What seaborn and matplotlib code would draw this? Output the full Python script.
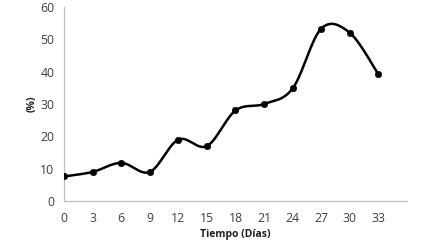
import seaborn as sns
import matplotlib.pyplot as plt
import numpy as np
import pandas as pd

dias = [0, 3, 6, 9, 12, 15, 18, 21, 24, 27, 30, 33]
porcentaje = [7.6, 9.0, 11.8, 9.0, 19.0, 17.0, 28.0, 30.0, 34.8, 53.3, 52.0, 39.2]
ticks = [0, 3, 6, 9, 12, 15, 18, 21, 24, 27, 30, 33]


def smooth(x, y, n=30):
    """Excel-like smoothed line (Catmull-Rom bezier through the points)."""
    p = np.column_stack([x, y]).astype(float)
    p = np.vstack([p[0], p, p[-1]])
    out = []
    t = np.linspace(0, 1, n)[:, None]
    for i in range(1, len(p) - 2):
        b0 = p[i]
        b3 = p[i + 1]
        b1 = b0 + (p[i + 1] - p[i - 1]) / 6
        b2 = b3 - (p[i + 2] - p[i]) / 6
        seg = ((1 - t) ** 3 * b0 + 3 * (1 - t) ** 2 * t * b1
               + 3 * (1 - t) * t ** 2 * b2 + t ** 3 * b3)
        out.append(seg)
    s = np.vstack(out)
    return pd.DataFrame({'x': s[:, 0], 'y': s[:, 1]})


sns.set_style("white")
plt.rcParams['font.family'] = ['Open Sans', 'DejaVu Sans']

fig = plt.figure(figsize=(4.27, 2.47), dpi=100)
ax = fig.add_axes([0.15, 0.186, 0.803, 0.786])

curve = smooth(dias, porcentaje)
sns.lineplot(data=curve, x='x', y='y', color='black', linewidth=1.8,
             sort=False, estimator=None, ax=ax)
sns.scatterplot(x=dias, y=porcentaje, color='black', s=22,
                edgecolor='black', zorder=3, ax=ax)

ax.set_xlim(0, 36)
ax.set_ylim(0, 60)
ax.set_xticks(ticks + [36])
ax.set_xticklabels([str(v) for v in ticks] + [''])
ax.set_yticks(range(0, 61, 10))

for side in ['top', 'right']:
    ax.spines[side].set_visible(False)
for side in ['left', 'bottom']:
    ax.spines[side].set_color('#bfbfbf')
    ax.spines[side].set_linewidth(0.9)

ax.tick_params(axis='both', colors='#bfbfbf', length=3, width=0.9,
               labelcolor='#404040', labelsize=8.8, direction='out')
ax.tick_params(axis='x', pad=5)
ax.tick_params(axis='y', pad=4)

ax.set_xlabel('Tiempo (Días)', fontsize=7.5, fontweight='bold', color='#202020', labelpad=3)
ax.set_ylabel('(%)', fontsize=7.5, fontweight='bold', color='#202020', labelpad=2)

fig.savefig('out.png', dpi=100)
